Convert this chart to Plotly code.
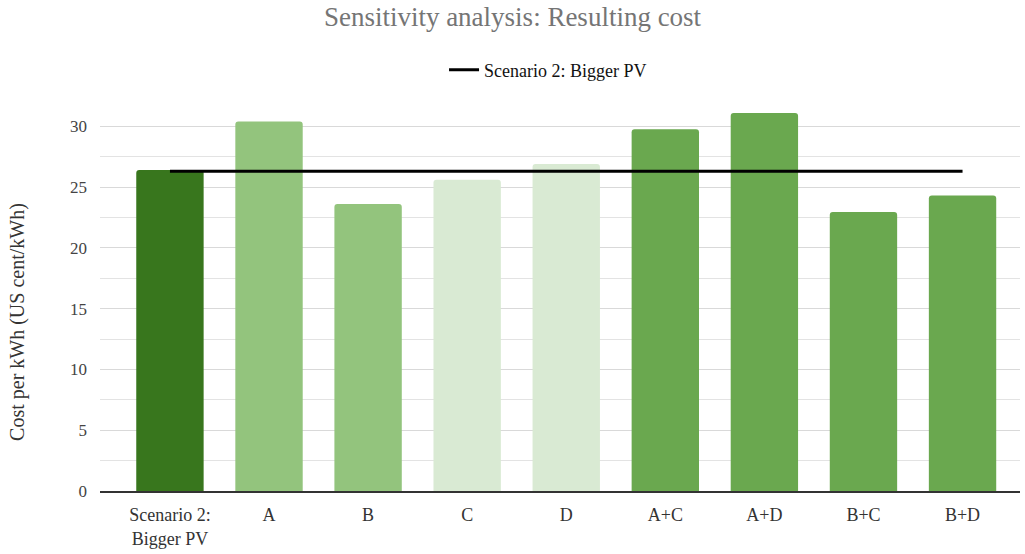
import plotly.graph_objects as go

categories = ["Scenario 2:<br>Bigger PV", "A", "B", "C", "D", "A+C", "A+D", "B+C", "B+D"]
cost_values = [26.4, 30.4, 23.6, 25.6, 26.9, 29.75, 31.1, 22.95, 24.3]
bar_colors = ["#38761d", "#93c47d", "#93c47d", "#d9ead3", "#d9ead3",
              "#6aa84f", "#6aa84f", "#6aa84f", "#6aa84f"]
baseline_name = "Scenario 2: Bigger PV"
baseline_value = 26.3
y_title = "Cost per kWh (US cent/kWh)"

FONT = "Liberation Serif"

fig = go.Figure()
fig.add_trace(go.Bar(
    x=categories, y=cost_values,
    marker=dict(color=bar_colors, line=dict(width=0)),
    width=0.68, showlegend=False, hoverinfo="x+y",
))
fig.add_trace(go.Scatter(
    x=categories, y=[baseline_value] * len(categories),
    mode="lines", name=baseline_name,
    line=dict(color="black", width=3),
))

fig.update_layout(
    width=1025, height=554,
    paper_bgcolor="white", plot_bgcolor="white",
    margin=dict(l=100, r=5, t=102, b=61),
    barcornerradius=3,
    title=dict(text="Sensitivity analysis: Resulting cost", x=0.5, xanchor="center",
               y=0.97, yanchor="middle",
               font=dict(family=FONT, size=27, color="#757575")),
    legend=dict(orientation="h", x=0.487, xanchor="center", y=1.082, yanchor="middle",
                font=dict(family=FONT, size=18, color="#111"), itemwidth=30),
    font=dict(family=FONT, color="#444"),
)
# y-axis title placed as a rotated annotation so it sits a little below the plot centre
fig.add_annotation(
    text=y_title, textangle=-90, showarrow=False,
    xref="paper", yref="paper", x=-0.089, y=0.435,
    xanchor="center", yanchor="middle",
    font=dict(family=FONT, size=20, color="#333"),
)
fig.update_xaxes(
    range=[-0.706, 8.58],
    showline=True, linecolor="#333", linewidth=1.5,
    tickfont=dict(family=FONT, size=18, color="#333"),
    showgrid=False, ticks="", ticklabelstandoff=7,
)
fig.update_yaxes(
    range=[0, 32], dtick=5, tick0=0,
    showgrid=True, gridcolor="#d9d9d9", gridwidth=1,
    minor=dict(dtick=2.5, showgrid=True, gridcolor="#e3e3e3", gridwidth=1),
    zeroline=False, ticks="", ticklabelstandoff=12,
    tickfont=dict(family=FONT, size=17, color="#444"),
)

fig.write_html("out.html")
